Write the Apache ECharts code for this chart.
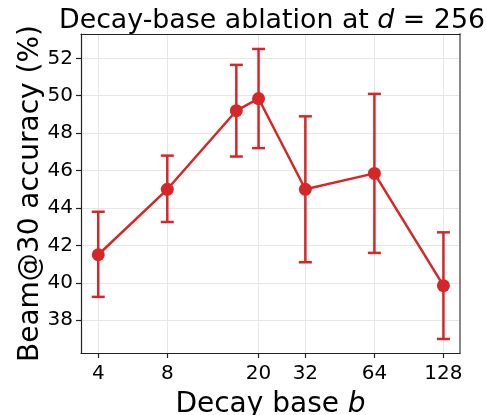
<!DOCTYPE html>
<html>
<head>
<meta charset="utf-8">
<script src="https://cdn.jsdelivr.net/npm/echarts@6/dist/echarts.min.js"></script>
<style>html,body{margin:0;padding:0;background:#fff}#c{width:486px;height:415px}</style>
</head>
<body>
<div id="c"></div>
<script>
const bases = [4, 8, 16, 20, 32, 64, 128];
const meanAcc = [41.5, 45.0, 49.2, 49.85, 45.0, 45.85, 39.85];
const lowerAcc = [39.25, 43.25, 46.75, 47.2, 41.1, 41.6, 37.0];
const upperAcc = [43.8, 46.8, 51.65, 52.5, 48.9, 50.1, 42.7];
const xTicks = [4, 8, 20, 32, 64, 128];
const yTicks = [38, 40, 42, 44, 46, 48, 50, 52];

const RED = '#d62728';
const FONT = 'DejaVu Sans';
const lg = v => Math.log2(v);
const lineData = bases.map((b, i) => [lg(b), meanAcc[i]]);
const errData = bases.map((b, i) => [lg(b), lowerAcc[i], upperAcc[i]]);
const xTickPos = xTicks.map(lg);
const xLabelSetA = xTicks.filter(v => v !== 32).map(lg);
const xLabelSetB = [32].map(lg);
const xmin = lg(4) - 0.25, xmax = lg(128) + 0.24;
const labelStyle = {fontFamily: FONT, fontSize: 20, color: '#000', margin: 11, hideOverlap: false,
  formatter: v => String(Math.round(Math.pow(2, v)))};

const chart = echarts.init(document.getElementById('c'), null, {renderer: 'canvas'});
chart.setOption({
  animation: false,
  title: {
    text: '{n|Decay-base ablation at }{i|d}{n| = 256}',
    left: 267, top: 3, textAlign: 'center',
    textStyle: {
      fontWeight: 'normal',
      rich: {
        n: {fontFamily: FONT, fontSize: 26.8, color: '#000', fontWeight: 'normal'},
        i: {fontFamily: FONT, fontSize: 26.8, color: '#000', fontStyle: 'italic', fontWeight: 'normal'}
      }
    }
  },
  grid: {left: 81, right: 26, top: 34, bottom: 62, containLabel: false, outerBoundsMode: 'none'},
  xAxis: [{
    type: 'value', min: xmin, max: xmax,
    name: '{n|Decay base }{i|b}', nameLocation: 'middle', nameGap: 38, nameMoveOverlap: false,
    nameTextStyle: {rich: {
      n: {fontFamily: FONT, fontSize: 28, color: '#000'},
      i: {fontFamily: FONT, fontSize: 28, color: '#000', fontStyle: 'italic'}
    }},
    axisLine: {show: true, onZero: false, lineStyle: {color: '#222', width: 1.2}},
    axisTick: {show: true, length: 5, customValues: xTickPos, lineStyle: {color: '#222', width: 1.2}},
    axisLabel: Object.assign({customValues: xLabelSetA}, labelStyle),
    splitLine: {show: true, lineStyle: {color: '#e6e6e6', width: 1}}
  }, {
    type: 'value', position: 'bottom', min: xmin, max: xmax,
    axisLine: {show: false}, nameMoveOverlap: false,
    axisTick: {show: false},
    axisLabel: Object.assign({customValues: xLabelSetB}, labelStyle),
    splitLine: {show: false}
  }, {
    type: 'value', position: 'top', min: xmin, max: xmax,
    axisLine: {show: true, onZero: false, lineStyle: {color: '#222', width: 1.2}},
    axisTick: {show: false}, axisLabel: {show: false}, splitLine: {show: false}
  }],
  yAxis: [{
    type: 'value', min: 36.25, max: 53.3,
    name: 'Beam@30 accuracy (%)', nameLocation: 'middle', nameGap: 36, nameMoveOverlap: false,
    nameTextStyle: {fontFamily: FONT, fontSize: 28, color: '#000'},
    axisLine: {show: true, onZero: false, lineStyle: {color: '#222', width: 1.2}},
    axisTick: {show: true, length: 5, customValues: yTicks, lineStyle: {color: '#222', width: 1.2}},
    axisLabel: {customValues: yTicks, fontFamily: FONT, fontSize: 20, color: '#000', margin: 8},
    splitLine: {show: true, lineStyle: {color: '#e6e6e6', width: 1}}
  }, {
    type: 'value', position: 'right', min: 36.25, max: 53.3,
    axisLine: {show: true, onZero: false, lineStyle: {color: '#888', width: 2}},
    axisTick: {show: false}, axisLabel: {show: false}, splitLine: {show: false}
  }],
  series: [{
    type: 'custom',
    data: errData,
    z: 3,
    renderItem: (params, api) => {
      const x = api.value(0);
      const lo = api.coord([x, api.value(1)]);
      const hi = api.coord([x, api.value(2)]);
      const cw = 6.5;
      const st = {stroke: RED, lineWidth: 2.5};
      return {type: 'group', children: [
        {type: 'line', shape: {x1: lo[0], y1: lo[1], x2: hi[0], y2: hi[1]}, style: st},
        {type: 'line', shape: {x1: lo[0] - cw, y1: lo[1], x2: lo[0] + cw, y2: lo[1]}, style: st},
        {type: 'line', shape: {x1: hi[0] - cw, y1: hi[1], x2: hi[0] + cw, y2: hi[1]}, style: st}
      ]};
    }
  }, {
    type: 'line',
    data: lineData,
    z: 4,
    symbol: 'circle', symbolSize: 13,
    lineStyle: {color: RED, width: 2.5},
    itemStyle: {color: RED}
  }]
});
</script>
</body>
</html>
